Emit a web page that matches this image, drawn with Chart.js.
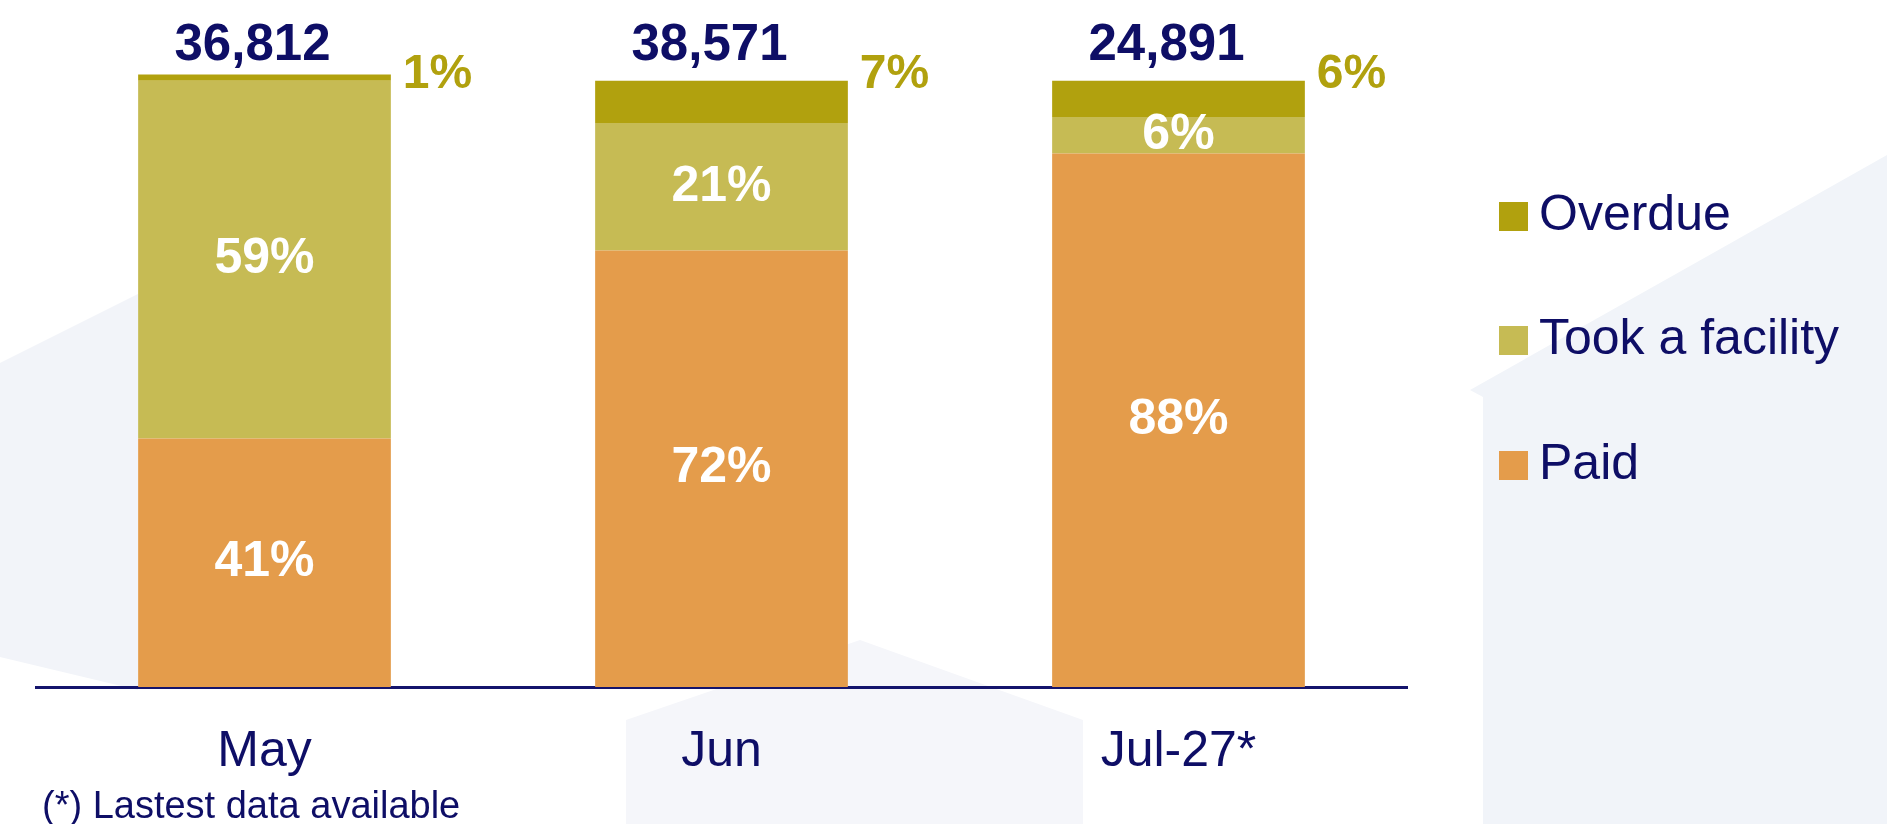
<!doctype html>
<html lang="en">
  <head>
    <meta charset="utf-8">
    <title>Payment status by month</title>
    <script src="https://cdn.jsdelivr.net/npm/chart.js"></script>
    <style>
      html, body { margin: 0; padding: 0; background: #fff; }
      #wrap { position: relative; width: 1887px; height: 824px; overflow: hidden;
              font-family: "Liberation Sans", Arial, sans-serif; color: #0e0e66; }
      #bg, #chart { position: absolute; left: 0; top: 0; }
      .swatch { position: absolute; width: 29px; height: 29px; }
      .legtext { position: absolute; font-size: 50px; line-height: 50px; white-space: nowrap; }
      #note { position: absolute; left: 42px; top: 786px; font-size: 38px; line-height: 38px; white-space: nowrap; }
    </style>
  </head>
  <body>
    <div id="wrap">
      <!-- faint background shapes -->
      <svg id="bg" width="1887" height="824">
        <polygon points="0,363 138,294 138,690 0,657" fill="#f2f4f9"/>
        <polygon points="1470,390 1887,155 1887,824 1483,824 1483,397" fill="#f1f4f9"/>
        <polygon points="626,720 860,640 1083,720 1083,824 626,824" fill="#f5f6fa"/>
      </svg>
      <canvas id="chart" width="1887" height="824"></canvas>
      <div id="legend"></div>
      <div id="note">(*) Lastest data available</div>
    </div>

    <script>
      const months = ['May', 'Jun', 'Jul-27*'];
      const totals = [36812, 38571, 24891];
      const paid = [41, 72, 88];
      const tookFacility = [59, 21, 6];
      const overdue = [1, 7, 6];

      const navy = '#0e0e66';
      const colPaid = '#e49c4b';
      const colTook = '#c6bb54';
      const colOverdue = '#b1a10e';

      // legend top to bottom, y = text baseline
      const legendItems = [
        { label: 'Overdue', color: colOverdue, y: 230 },
        { label: 'Took a facility', color: colTook, y: 354 },
        { label: 'Paid', color: colPaid, y: 479 }
      ];

      const legendDiv = document.getElementById('legend');
      legendItems.forEach(item => {
        const sw = document.createElement('div');
        sw.className = 'swatch';
        sw.style.background = item.color;
        sw.style.left = '1499px';
        sw.style.top = (item.y - 28) + 'px';
        legendDiv.appendChild(sw);
        const t = document.createElement('div');
        t.className = 'legtext';
        t.textContent = item.label;
        t.style.left = '1539px';
        t.style.top = (item.y - 42) + 'px';
        legendDiv.appendChild(t);
      });

      const barLabels = {
        id: 'barLabels',
        afterDatasetsDraw(chart) {
          const ctx = chart.ctx;
          const y = chart.scales.y;
          const top = y.getPixelForValue(100);
          ctx.save();

          // white labels centred in the paid / took segments
          ctx.font = 'bold 50px "Liberation Sans", Arial, sans-serif';
          ctx.fillStyle = '#ffffff';
          ctx.textAlign = 'center';
          ctx.textBaseline = 'middle';
          [0, 1].forEach(di => {
            const values = chart.data.datasets[di].data;
            chart.getDatasetMeta(di).data.forEach((bar, i) => {
              const p = bar.getProps(['x', 'y', 'base'], true);
              ctx.fillText(values[i] + '%', p.x, (p.y + p.base) / 2);
            });
          });

          // overdue share to the right of each bar
          ctx.font = 'bold 48px "Liberation Sans", Arial, sans-serif';
          ctx.fillStyle = colOverdue;
          ctx.textAlign = 'left';
          chart.getDatasetMeta(2).data.forEach((bar, i) => {
            const p = bar.getProps(['x', 'width'], true);
            ctx.fillText(overdue[i] + '%', p.x + p.width / 2 + 12, top - 6);
          });

          // totals above the bars
          ctx.font = 'bold 51px "Liberation Sans", Arial, sans-serif';
          ctx.fillStyle = navy;
          ctx.textAlign = 'center';
          ctx.textBaseline = 'alphabetic';
          chart.getDatasetMeta(2).data.forEach((bar, i) => {
            ctx.fillText(totals[i].toLocaleString('en-US'), bar.x - 12, top - 21);
          });
          ctx.restore();
        }
      };

      const chart = new Chart(document.getElementById('chart'), {
        type: 'bar',
        data: {
          labels: months,
          datasets: [
            { label: 'Paid', data: paid, backgroundColor: colPaid },
            { label: 'Took a facility', data: tookFacility, backgroundColor: colTook },
            { label: 'Overdue', data: overdue, backgroundColor: colOverdue }
          ]
        },
        options: {
          responsive: false,
          animation: false,
          layout: { padding: { left: 36, right: 480, top: 20, bottom: 0 } },
          datasets: { bar: { categoryPercentage: 1, barPercentage: 0.553 } },
          plugins: { legend: { display: false }, tooltip: { enabled: false } },
          scales: {
            x: {
              stacked: true,
              grid: { display: false, drawTicks: false },
              border: { display: true, color: '#14146c', width: 3 },
              ticks: {
                padding: 35,
                color: navy,
                font: { family: '"Liberation Sans", Arial, sans-serif', size: 50 }
              },
              afterFit(scale) { scale.height = 137; }
            },
            y: {
              stacked: true,
              display: false,
              min: 0,
              max: 110
            }
          }
        },
        plugins: [barLabels]
      });
    </script>
  </body>
</html>
